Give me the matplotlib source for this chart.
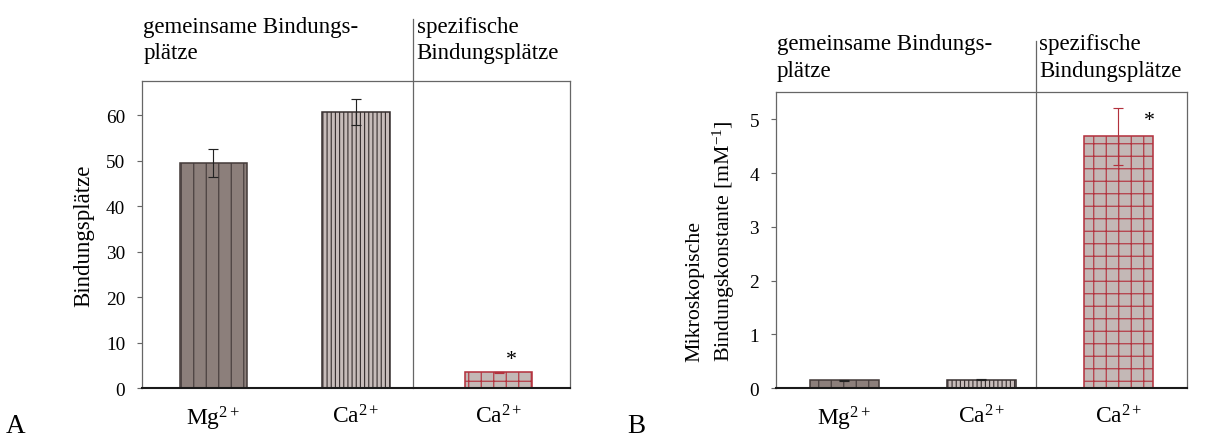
import matplotlib
matplotlib.use("Agg")
import matplotlib.pyplot as plt
import matplotlib.transforms as mtransforms

# ---- data ----
categories = ["Mg$^{2+}$", "Ca$^{2+}$", "Ca$^{2+}$"]
sites_values = [49.5, 60.7, 3.5]
sites_errors = [3.0, 2.8, 0.15]
const_values = [0.148, 0.16, 4.68]
const_errors = [0.012, 0.01, 0.53]
header_common = "gemeinsame Bindungs-\nplätze"
header_specific = "spezifische\nBindungsplätze"
ylabel_a = "Bindungsplätze"
ylabel_b = "Mikroskopische\nBindungskonstante [mM$^{-1}$]"
yticks_a = [0, 10, 20, 30, 40, 50, 60]
yticks_b = [0, 1, 2, 3, 4, 5]

plt.rcParams["font.family"] = ["Liberation Serif", "DejaVu Serif"]
plt.rcParams["mathtext.fontset"] = "custom"
plt.rcParams["mathtext.rm"] = "Liberation Serif"
plt.rcParams["mathtext.it"] = "Liberation Serif:italic"
plt.rcParams["mathtext.default"] = "regular"
plt.rcParams["hatch.linewidth"] = 1.1

DPI = 75
fig = plt.figure(figsize=(1206 / DPI, 440 / DPI), dpi=DPI)

face = ["#8c7f7b", "#c7bcba", "#c3b8b6"]
edge = ["#453c3b", "#3a3232", "#b3313d"]
hatches = ["|", "|||", "+"]
err_col = ["#222222", "#222222", "#b3313d"]
spine_col = "#666666"
HDR = 22


def style_axes(ax, values, ymax, yticks, width):
    xs = list(range(len(categories)))
    for i in xs:
        ax.bar(xs[i], values[i], width=width,
               color=face[i], edgecolor=edge[i], hatch=hatches[i], linewidth=1.5,
               zorder=2)
    ax.set_xlim(-0.5, 2.5)
    ax.set_ylim(0, ymax)
    ax.set_yticks(yticks)
    ax.set_xticks(xs)
    ax.set_xticklabels(categories, fontsize=22.5)
    ax.tick_params(axis="x", length=0, pad=15)
    ax.tick_params(axis="y", direction="out", length=5, width=1.1,
                   color=spine_col, labelsize=18.5, pad=11)
    for s in ["left", "right", "top"]:
        ax.spines[s].set_color(spine_col)
        ax.spines[s].set_linewidth(1.2)
    ax.spines["bottom"].set_color("#1a1a1a")
    ax.spines["bottom"].set_linewidth(2.0)


# ---- panel A ----
axA = fig.add_axes([142 / 1206, 1 - 389.3 / 440, 428 / 1206, 307.6 / 440])
style_axes(axA, sites_values, 67.6, yticks_a, 0.47)
for i in range(3):
    axA.errorbar(i, sites_values[i], yerr=sites_errors[i], fmt="none",
                 ecolor=err_col[i], elinewidth=1.1, capsize=4.5, capthick=1.1,
                 zorder=3)
axA.set_ylabel(ylabel_a, fontsize=22)
axA.yaxis.set_label_coords(-0.112, 0.5)
trA = mtransforms.blended_transform_factory(axA.transData, axA.transAxes)
axA.plot([1.4, 1.4], [0, 1.2], transform=trA, color=spine_col, lw=1.2,
         clip_on=False, zorder=1)
axA.text(0.003, 1.134, header_common, transform=axA.transAxes, ha="left",
         va="center", fontsize=HDR, linespacing=1.35)
axA.text(1.425, 1.134, header_specific, transform=trA, ha="left",
         va="center", fontsize=HDR, linespacing=1.35)
axA.text(2.09, 6.3, "*", ha="center", va="center", fontsize=21)

# ---- panel B ----
axB = fig.add_axes([775.8 / 1206, 1 - 389.3 / 440, 411 / 1206, 296 / 440])
style_axes(axB, const_values, 5.5, yticks_b, 0.5)
for i in range(3):
    axB.errorbar(i, const_values[i], yerr=const_errors[i], fmt="none",
                 ecolor=err_col[i], elinewidth=1.1, capsize=4.5, capthick=1.1,
                 zorder=3)
axB.set_ylabel(ylabel_b, fontsize=21, multialignment="left", linespacing=1.35)
axB.yaxis.set_label_coords(-0.094, 0.5)
trB = mtransforms.blended_transform_factory(axB.transData, axB.transAxes)
axB.plot([1.4, 1.4], [0, 1.174], transform=trB, color=spine_col, lw=1.2,
         clip_on=False, zorder=1)
axB.text(0.003, 1.12, header_common, transform=axB.transAxes, ha="left",
         va="center", fontsize=HDR, linespacing=1.35)
axB.text(1.42, 1.12, header_specific, transform=trB, ha="left",
         va="center", fontsize=HDR, linespacing=1.35)
axB.text(2.23, 4.98, "*", ha="center", va="center", fontsize=21)

fig.text(0.005, 0.002, "A", fontsize=26, ha="left", va="bottom")
fig.text(0.52, 0.002, "B", fontsize=26, ha="left", va="bottom")

fig.savefig("out.png", dpi=DPI)
